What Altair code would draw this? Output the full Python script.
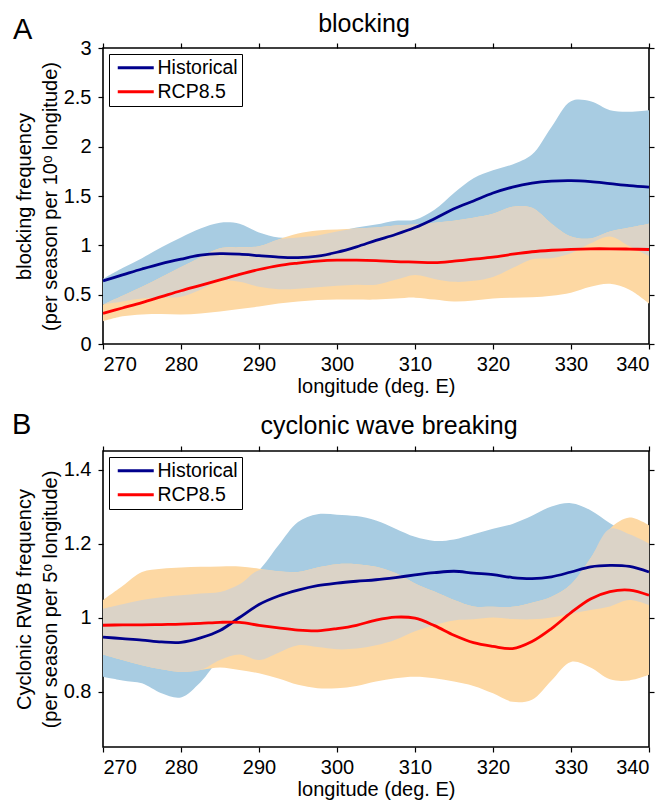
import altair as alt
import pandas as pd

# ---------------- data ----------------
lon = [270, 272.5, 275, 277.5, 280, 282.5, 285, 287.5, 290, 292.5, 295, 297.5,
       300, 302.5, 305, 307.5, 310, 312.5, 315, 317.5, 320, 322.5, 325, 327.5,
       330, 332.5, 335, 337.5, 340]

# Panel A: blocking
a_hist_mean = [0.64, 0.70, 0.76, 0.815, 0.86, 0.90, 0.915, 0.91, 0.895, 0.88, 0.875, 0.89,
               0.93, 0.985, 1.05, 1.11, 1.18, 1.27, 1.37, 1.45, 1.53, 1.59, 1.63, 1.65,
               1.655, 1.645, 1.625, 1.605, 1.59]
a_hist_low = [0.40, 0.43, 0.46, 0.47, 0.48, 0.55, 0.64, 0.63, 0.58, 0.555, 0.56, 0.575,
              0.59, 0.60, 0.60, 0.65, 0.70, 0.66, 0.63, 0.64, 0.68, 0.77, 0.86, 0.87,
              0.92, 1.02, 1.09, 0.99, 0.89]
a_hist_high = [0.66, 0.77, 0.87, 0.98, 1.08, 1.17, 1.23, 1.22, 1.13, 1.08, 1.08, 1.10,
               1.14, 1.18, 1.21, 1.25, 1.26, 1.36, 1.53, 1.68, 1.76, 1.82, 1.92, 2.20,
               2.46, 2.46, 2.37, 2.355, 2.37]
a_rcp_mean = [0.31, 0.365, 0.42, 0.48, 0.54, 0.595, 0.65, 0.705, 0.755, 0.795, 0.82, 0.84,
              0.85, 0.85, 0.845, 0.835, 0.83, 0.825, 0.84, 0.86, 0.88, 0.91, 0.935, 0.95,
              0.96, 0.965, 0.965, 0.962, 0.958]
a_rcp_low = [0.23, 0.28, 0.30, 0.305, 0.30, 0.31, 0.33, 0.355, 0.38, 0.41, 0.43, 0.445,
             0.45, 0.45, 0.45, 0.46, 0.47, 0.45, 0.43, 0.44, 0.46, 0.47, 0.475, 0.49,
             0.52, 0.58, 0.61, 0.55, 0.41]
a_rcp_high = [0.40, 0.49, 0.58, 0.68, 0.78, 0.88, 0.97, 0.98, 0.99, 1.06, 1.12, 1.15,
              1.16, 1.17, 1.18, 1.20, 1.21, 1.23, 1.25, 1.28, 1.32, 1.39, 1.38, 1.22,
              1.09, 1.07, 1.14, 1.18, 1.22]

# Panel B: cyclonic wave breaking
b_hist_mean = [0.947, 0.943, 0.939, 0.934, 0.933, 0.945, 0.965, 1.0, 1.035, 1.058, 1.074, 1.086,
               1.093, 1.098, 1.102, 1.108, 1.115, 1.121, 1.125, 1.12, 1.116, 1.108, 1.105, 1.11,
               1.123, 1.137, 1.141, 1.138, 1.123]
b_hist_low = [0.84, 0.83, 0.822, 0.795, 0.784, 0.825, 0.885, 0.90, 0.885, 0.905, 0.925, 0.92,
              0.914, 0.916, 0.925, 0.94, 0.963, 0.98, 0.992, 0.995, 1.0, 0.996, 0.995, 1.0,
              1.011, 1.02, 1.03, 1.047, 1.033]
b_hist_high = [1.024, 1.036, 1.047, 1.055, 1.06, 1.065, 1.069, 1.09, 1.128, 1.195, 1.258, 1.279,
               1.278, 1.274, 1.262, 1.24, 1.218, 1.207, 1.211, 1.225, 1.24, 1.253, 1.275, 1.30,
               1.309, 1.29, 1.255, 1.225, 1.20]
b_rcp_mean = [0.979, 0.98, 0.98, 0.981, 0.982, 0.984, 0.987, 0.987, 0.979, 0.972, 0.966, 0.964,
              0.97, 0.979, 0.993, 1.001, 0.998, 0.978, 0.952, 0.932, 0.922, 0.916, 0.935, 0.97,
              1.013, 1.05, 1.07, 1.074, 1.06]
b_rcp_low = [0.90, 0.885, 0.871, 0.86, 0.853, 0.858, 0.865, 0.858, 0.849, 0.835, 0.818, 0.809,
             0.809, 0.815, 0.827, 0.836, 0.84, 0.836, 0.827, 0.815, 0.795, 0.772, 0.778, 0.83,
             0.88, 0.865, 0.833, 0.83, 0.845]
b_rcp_high = [1.047, 1.085, 1.123, 1.132, 1.135, 1.137, 1.138, 1.138, 1.132, 1.125, 1.123, 1.135,
              1.144, 1.144, 1.137, 1.12, 1.092, 1.07, 1.047, 1.03, 1.029, 1.029, 1.04, 1.056,
              1.09, 1.16, 1.24, 1.27, 1.249]

series_names = ["Historical", "RCP8.5"]
panel_labels = ["A", "B"]
panel_titles = ["blocking", "cyclonic wave breaking"]
y_titles = [["blocking frequency", "(per season per 10ᵒ longitude)"],
            ["Cyclonic RWB frequency", "(per season per 5ᵒ longitude)"]]
x_title = "longitude (deg. E)"
x_ticks = [270, 280, 290, 300, 310, 320, 330, 340]
x_domain = [270, 340]
a_y_ticks = [0, 0.5, 1, 1.5, 2, 2.5, 3]
a_y_domain = [0, 3]
b_y_ticks = [0.8, 1.0, 1.2, 1.4]
b_y_domain = [0.65, 1.45]

# ---------------- style ----------------
FONT = "Liberation Sans, Arial, Helvetica, sans-serif"
BLUE_BAND = "#a8cce2"
ORANGE_BAND = "#fdd8a3"
OVERLAP = "#dbd3c7"
NAVY = "#00008c"
RED = "#ff0000"
W, H = 546, 296
INTERP = "catmull-rom"


def panel(hm, hl, hu, rm, rl, ru, ydom, yticks, ytitle, label, heading,
          label_x, label_y, heading_x, heading_y):
    bands = pd.DataFrame({"lon": lon, "hl": hl, "hu": hu, "rl": rl, "ru": ru})
    lines = pd.DataFrame({
        "lon": lon + lon,
        "value": hm + rm,
        "series": [series_names[0]] * len(lon) + [series_names[1]] * len(lon),
    })
    txt = pd.DataFrame({"label": [label], "heading": [heading]})

    xs = alt.Scale(domain=x_domain, nice=False, zero=False)
    ys = alt.Scale(domain=ydom, nice=False, zero=False)
    x_axis = alt.Axis(values=x_ticks, format="d", title=x_title,
                      labelPadding=5, titlePadding=2)
    y_axis = alt.Axis(values=yticks, format=".1~f", title=ytitle,
                      labelPadding=7, titlePadding=3, titleLineHeight=26)

    blue = alt.Chart(bands).mark_area(color=BLUE_BAND, interpolate=INTERP).encode(
        x=alt.X("lon:Q", scale=xs, axis=x_axis),
        y=alt.Y("hl:Q", scale=ys, axis=y_axis),
        y2="hu:Q",
    )
    orange = alt.Chart(bands).mark_area(color=ORANGE_BAND, interpolate=INTERP).encode(
        x=alt.X("lon:Q", scale=xs, axis=None),
        y=alt.Y("rl:Q", scale=ys, axis=None),
        y2="ru:Q",
    )
    overlap = alt.Chart(bands).transform_calculate(
        ou="min(datum.hu, datum.ru)", ol="max(datum.hl, datum.rl)"
    ).transform_calculate(
        ol2="min(datum.ol, datum.ou)"
    ).mark_area(color=OVERLAP, interpolate=INTERP).encode(
        x=alt.X("lon:Q", scale=xs, axis=None),
        y=alt.Y("ol2:Q", scale=ys, axis=None),
        y2="ou:Q",
    )
    line = alt.Chart(lines).mark_line(strokeWidth=2.8, interpolate=INTERP).encode(
        x=alt.X("lon:Q", scale=xs, axis=None),
        y=alt.Y("value:Q", scale=ys, axis=None),
        color=alt.Color(
            "series:N",
            scale=alt.Scale(domain=series_names, range=[NAVY, RED]),
            legend=alt.Legend(
                orient="top-left", offset=6, title=None,
                strokeColor="black", fillColor="white",
                padding=4, rowPadding=3,
                symbolType="M-2.25,0H2.25", symbolSize=256, symbolStrokeWidth=3,
                symbolOffset=13, labelOffset=12,
                labelFont=FONT, labelFontSize=19.5, labelColor="black", labelLimit=0,
            ),
        ),
    )
    mirror = alt.Chart(bands).mark_point(opacity=0).encode(
        x=alt.X("lon:Q", scale=xs,
                axis=alt.Axis(orient="top", values=x_ticks, labels=False, title=None)),
        y=alt.Y("hl:Q", scale=ys,
                axis=alt.Axis(orient="right", values=yticks, labels=False, title=None)),
    )
    lab = alt.Chart(txt).mark_text(
        align="left", baseline="alphabetic", fontSize=29, font=FONT, color="black"
    ).encode(text="label:N", x=alt.value(label_x), y=alt.value(label_y))
    head = alt.Chart(txt).mark_text(
        align="center", baseline="alphabetic", fontSize=25, font=FONT, color="black"
    ).encode(text="heading:N", x=alt.value(heading_x), y=alt.value(heading_y))

    return alt.layer(blue, orange, overlap, line, mirror, lab, head).resolve_axis(
        x="independent", y="independent"
    ).properties(width=W, height=H)


pA = panel(a_hist_mean, a_hist_low, a_hist_high, a_rcp_mean, a_rcp_low, a_rcp_high,
           a_y_domain, a_y_ticks, y_titles[0], panel_labels[0], panel_titles[0],
           -90, -9, 261, -16.5)
pB = panel(b_hist_mean, b_hist_low, b_hist_high, b_rcp_mean, b_rcp_low, b_rcp_high,
           b_y_domain, b_y_ticks, y_titles[1], panel_labels[1], panel_titles[1],
           -91, -16.7, 286, -17)

chart = alt.vconcat(pA, pB, spacing=13).resolve_legend(color="independent").properties(
    padding={"left": 3, "right": 0, "top": 2, "bottom": 2}
).configure_view(
    stroke="black", strokeWidth=1.6
).configure_axis(
    labelFont=FONT, titleFont=FONT, labelFontSize=20, titleFontSize=20,
    titleFontWeight="normal", labelColor="black", titleColor="black",
    tickColor="black", tickSize=5, tickWidth=1.2, domain=False, grid=False,
)

chart.save("out.html", embed_options={"renderer": "svg", "actions": False})
